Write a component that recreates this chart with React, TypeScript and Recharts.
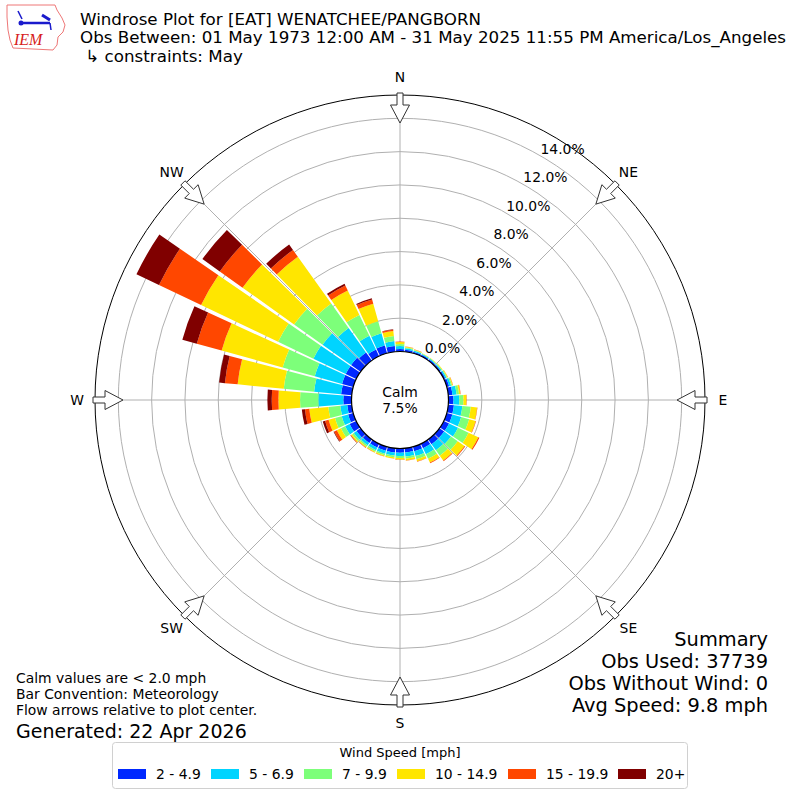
import React from 'react';
import { RadialBarChart, RadialBar, PolarAngleAxis, PolarRadiusAxis, PolarGrid } from 'recharts';

// Direction sectors (degrees from north, clockwise)
const directions = ['0','10','20','30','40','50','60','70','80','90','100','110','120','130','140','150','160','170','180','190','200','210','220','230','240','250','260','270','280','290','300','310','320','330','340','350'];

// Frequency (%) per speed bin
const speed2to5 = [0.15,0.12,0.10,0.09,0.09,0.09,0.10,0.15,0.25,0.30,0.34,0.35,0.35,0.35,0.35,0.30,0.28,0.25,0.25,0.25,0.25,0.25,0.26,0.30,0.44,0.32,0.27,0.49,0.64,0.70,0.70,0.70,0.60,0.44,0.49,0.34];
const speed5to7 = [0.18,0.09,0.07,0.06,0.06,0.07,0.08,0.12,0.25,0.35,0.51,0.55,0.60,0.50,0.45,0.40,0.30,0.25,0.20,0.18,0.18,0.18,0.17,0.20,0.30,0.40,0.42,1.50,1.63,1.70,2.15,2.10,1.80,0.92,0.75,0.30];
const speed7to10 = [0.12,0.05,0.04,0.03,0.03,0.04,0.05,0.07,0.15,0.25,0.51,0.50,0.70,0.50,0.40,0.30,0.20,0.13,0.12,0.11,0.10,0.10,0.10,0.12,0.28,0.42,0.72,1.10,1.83,2.00,2.35,2.10,1.80,1.39,0.75,0.31];
const speed10to15 = [0.12,0.04,0.03,0.02,0.02,0.03,0.04,0.05,0.08,0.18,0.38,0.40,0.65,0.50,0.35,0.25,0.13,0.10,0.09,0.08,0.07,0.06,0.07,0.08,0.27,0.40,1.15,1.30,2.78,3.80,5.12,3.80,3.45,1.62,1.10,0.30];
const speed15to20 = [0.03,0.01,0.01,0.00,0.00,0.00,0.01,0.01,0.02,0.02,0.02,0.03,0.07,0.05,0.05,0.05,0.02,0.02,0.02,0.01,0.01,0.01,0.02,0.04,0.18,0.22,0.26,0.40,0.77,1.55,2.80,1.68,0.50,0.34,0.26,0.08];
const speed20plus = [0.00,0.00,0.00,0.00,0.00,0.00,0.00,0.00,0.00,0.00,0.00,0.00,0.00,0.00,0.00,0.00,0.00,0.00,0.00,0.00,0.00,0.00,0.01,0.01,0.04,0.14,0.19,0.26,0.35,0.90,1.50,1.28,0.40,0.11,0.08,0.02];

const binLabels = ['2 - 4.9', '5 - 6.9', '7 - 9.9', '10 - 14.9', '15 - 19.9', '20+'];
const binColors = ['#0028ff', '#00d4ff', '#7dff7a', '#ffe600', '#ff4700', '#800000'];
const binKeys = ['b0', 'b1', 'b2', 'b3', 'b4', 'b5'];

const ringTicks = [0, 2, 4, 6, 8, 10, 12, 14];
const radiusMax = 15.4;

const compassLabels = ['N', 'NE', 'E', 'SE', 'S', 'SW', 'W', 'NW'];
const compassAngles = [0, 45, 90, 135, 180, 225, 270, 315];

const titleLines = [
  'Windrose Plot for [EAT] WENATCHEE/PANGBORN',
  'Obs Between: 01 May 1973 12:00 AM - 31 May 2025 11:55 PM America/Los_Angeles',
  ' \u21b3 constraints: May',
];
const noteLines = ['Calm values are < 2.0 mph', 'Bar Convention: Meteorology', 'Flow arrows relative to plot center.'];
const generatedText = 'Generated: 22 Apr 2026';
const summaryLines = ['Summary', 'Obs Used: 37739', 'Obs Without Wind: 0', 'Avg Speed: 9.8 mph'];
const calmText = ['Calm', '7.5%'];
const legendTitle = 'Wind Speed [mph]';

const series = [speed2to5, speed5to7, speed7to10, speed10to15, speed15to20, speed20plus];
const data = directions.map((d, i) => {
  const row: Record<string, any> = { dir: d };
  series.forEach((s, k) => { row[binKeys[k]] = s[i]; });
  return row;
});

const CX = 400;
const CY = 400;
const INNER = 48.5;
const OUTER = 305;
const FONT = 'DejaVu Sans, sans-serif';

const pt = (r: number, a: number, t = 0) => {
  const rad = (a * Math.PI) / 180;
  return [CX + r * Math.sin(rad) + t * Math.cos(rad), CY - r * Math.cos(rad) + t * Math.sin(rad)];
};

const arrowPath = (a: number) => {
  const pts = [
    pt(277, a, 0),
    pt(295, a, -9.5),
    pt(295, a, -3),
    pt(307, a, -3),
    pt(307, a, 3),
    pt(295, a, 3),
    pt(295, a, 9.5),
  ];
  return 'M' + pts.map((p) => `${p[0].toFixed(2)},${p[1].toFixed(2)}`).join('L') + 'Z';
};

const RingTick = (props: any) => {
  const { x, y, payload } = props;
  return (
    <text x={x + 17.5} y={y - 10} textAnchor="middle" dominantBaseline="central" fontSize={13.9} fontFamily={FONT} fill="#000">
      {Number(payload.value).toFixed(1)}%
    </text>
  );
};

const legendX = [118, 211, 304, 397, 508, 618];

export default function App() {
  return (
    <div style={{ position: 'absolute', left: 0, top: 0, width: 800, height: 800, background: '#fff' }}>
      <RadialBarChart
        width={800}
        height={800}
        data={data}
        cx={CX}
        cy={CY}
        innerRadius={INNER}
        outerRadius={OUTER}
        startAngle={85}
        endAngle={-275}
        layout="centric"
        barCategoryGap="5%"
        margin={{ top: 0, right: 0, bottom: 0, left: 0 }}
      >
        <PolarAngleAxis type="category" dataKey="dir" tick={false} axisLine={false} tickLine={false} />
        <PolarRadiusAxis
          type="number"
          domain={[0, radiusMax]}
          allowDataOverflow
          ticks={ringTicks}
          angle={59}
          axisLine={false}
          tickLine={false}
          tick={RingTick}
        />
        {binKeys.map((k, i) => (
          <RadialBar key={k} dataKey={k} stackId="a" fill={binColors[i]} isAnimationActive={false} />
        ))}
        <PolarGrid
          gridType="circle"
          polarAngles={compassAngles.map((a) => 90 - a)}
          stroke="#b0b0b0"
          strokeWidth={1}
        />
      </RadialBarChart>

      <svg width={800} height={800} style={{ position: 'absolute', left: 0, top: 0, pointerEvents: 'none' }} fontFamily={FONT}>
        <circle cx={CX} cy={CY} r={OUTER} fill="none" stroke="#000" strokeWidth={1} />
        {compassAngles.map((a, i) => {
          const lp = pt(323, a);
          return (
            <g key={a}>
              <path d={arrowPath(a)} fill="#fff" stroke="#333" strokeWidth={1} />
              <text x={lp[0]} y={lp[1]} textAnchor="middle" dominantBaseline="central" fontSize={13.9} fill="#000">
                {compassLabels[i]}
              </text>
            </g>
          );
        })}
        <circle cx={CX} cy={CY} r={INNER} fill="#fff" stroke="#000" strokeWidth={1.2} />
        <text x={CX} y={CY - 8} textAnchor="middle" dominantBaseline="central" fontSize={13.9}>{calmText[0]}</text>
        <text x={CX} y={CY + 8} textAnchor="middle" dominantBaseline="central" fontSize={13.9}>{calmText[1]}</text>

        {/* logo */}
        <g>
          <path d="M7,5 L55,5 L57,10 L62,18 L65,25 L63,32 L58,37 L57,45 L53,50 L13,48 L10,40 L8,30 L7,17 Z" fill="#fff" stroke="#e77" strokeWidth={1} />
          <line x1={21} y1={23} x2={50} y2={23} stroke="#1a1acc" strokeWidth={2.5} />
          <circle cx={21} cy={23} r={2.5} fill="#1a1acc" />
          <line x1={18} y1={11} x2={22} y2={19} stroke="#1a1acc" strokeWidth={1.5} />
          <line x1={42} y1={15} x2={50} y2={20} stroke="#1a1acc" strokeWidth={3} />
          <line x1={50} y1={23} x2={51} y2={30} stroke="#1a1acc" strokeWidth={1.5} />
          <text x={14} y={45} fontSize={16} fontStyle="italic" fontFamily="Liberation Serif, DejaVu Serif, serif" fill="#d62020">IEM</text>
        </g>

        {titleLines.map((t, i) => (
          <text key={i} x={80} y={25 + i * 18.3} fontSize={16.7} fill="#000" style={{ whiteSpace: 'pre' }}>{t}</text>
        ))}

        {noteLines.map((t, i) => (
          <text key={i} x={16} y={683 + i * 16} fontSize={13.9} fill="#000">{t}</text>
        ))}
        <text x={16} y={738} fontSize={19} fill="#000">{generatedText}</text>

        {summaryLines.map((t, i) => (
          <text key={i} x={768} y={646 + i * 22} fontSize={19.4} textAnchor="end" fill="#000">{t}</text>
        ))}

        {/* legend */}
        <rect x={112.5} y={742.5} width={575} height={46} rx={3} fill="#fff" stroke="#d0d0d0" strokeWidth={1} />
        <text x={400} y={757} textAnchor="middle" fontSize={13} fill="#000">{legendTitle}</text>
        {binLabels.map((l, i) => (
          <g key={l}>
            <rect x={legendX[i]} y={769} width={28} height={10} fill={binColors[i]} />
            <text x={legendX[i] + 38} y={779} fontSize={13.9} fill="#000">{l}</text>
          </g>
        ))}
      </svg>
    </div>
  );
}
